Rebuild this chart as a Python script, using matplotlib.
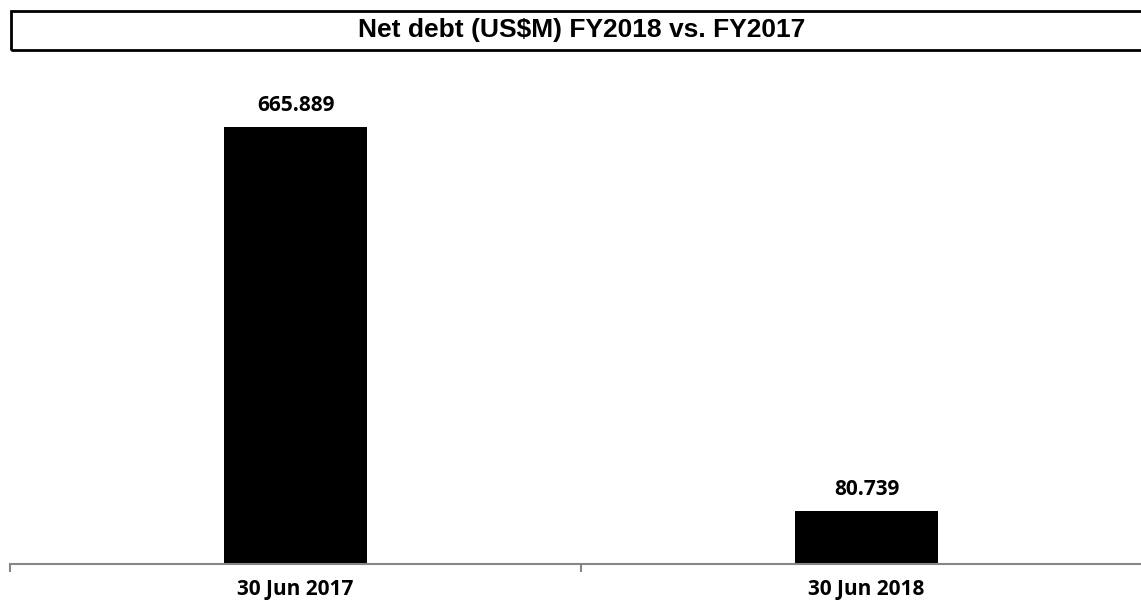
import matplotlib
matplotlib.use("Agg")
import matplotlib.pyplot as plt
from matplotlib.patches import Rectangle

categories = ["30 Jun 2017", "30 Jun 2018"]
net_debt = [665.889, 80.739]
value_labels = ["665.889", "80.739"]
title = "Net debt (US$M) FY2018 vs. FY2017"

W, H = 1141, 603
fig = plt.figure(figsize=(W / 100, H / 100), dpi=100)

# plot area: x axis from px 10 to 1152, baseline at px 563.7 from top
ax = fig.add_axes([10 / W, (H - 563.7) / H, 1142 / W, 459.4 / H])
x = list(range(len(categories)))
ax.bar(x, net_debt, width=0.25, color="black")
ax.set_xlim(-0.5, 1.5)
ax.set_ylim(0, 700)

lab_font = dict(fontsize=15, fontweight="bold", family="Open Sans")

for xi, v, lab in zip(x, net_debt, value_labels):
    ax.annotate(lab, (xi, v), xytext=(0, 15), textcoords="offset points",
                ha="center", va="center", **lab_font)

for s in ["top", "right", "left"]:
    ax.spines[s].set_visible(False)
ax.spines["bottom"].set_color("#868686")
ax.spines["bottom"].set_linewidth(1.5)
ax.set_yticks([])
ax.set_xticks(x)
ax.set_xticklabels(categories, **lab_font)
ax.tick_params(axis="x", which="major", length=0, pad=11)
ax.set_xticks([-0.5, 0.5, 1.5], minor=True)
ax.tick_params(axis="x", which="minor", length=5.5, width=1.5, color="#868686")

# boxed title
fig.patches.append(Rectangle((11 / W, (H - 50) / H), 1.0, 39 / H,
                             transform=fig.transFigure, fill=False,
                             edgecolor="black", linewidth=2))
fig.text(582 / W, (H - 30.5) / H, title, ha="center", va="center",
         fontsize=19, fontweight="bold", family="Liberation Sans")

fig.savefig("out.png", dpi=100)
